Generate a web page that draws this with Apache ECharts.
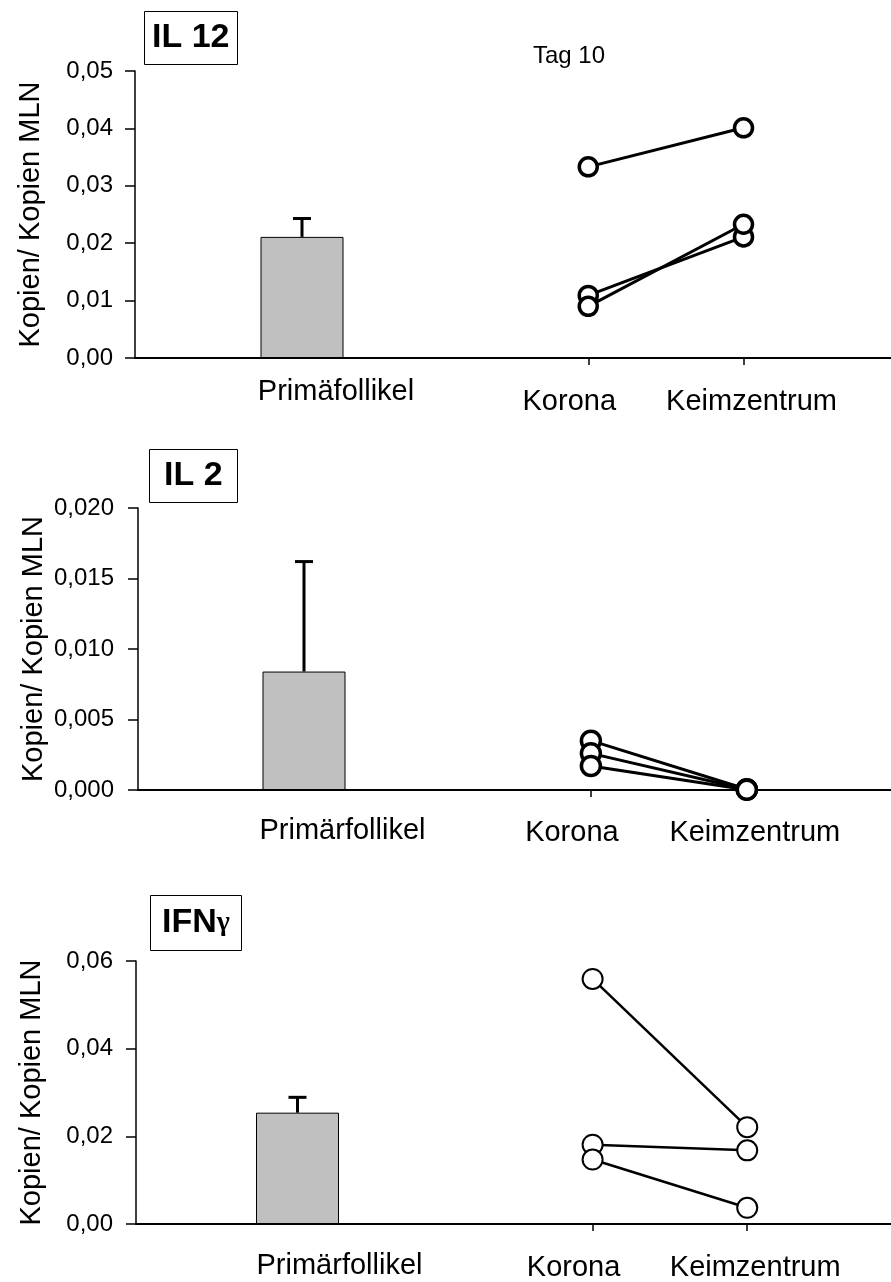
<!DOCTYPE html>
<html>
<head>
<meta charset="utf-8">
<script src="https://cdn.jsdelivr.net/npm/echarts@6/dist/echarts.min.js"></script>
<style>
  html, body { margin: 0; padding: 0; background: #fff; }
  #chart { width: 891px; height: 1282px; }
</style>
</head>
<body>
<div id="chart"></div>
<script>
// pair categories (right part of each panel)
const pairNames = ['Korona', 'Keimzentrum'];

// IL 12
const il12Category = ['Primäfollikel'];
const il12Mean = [0.0211];
const il12Err = [0.0032];
const il12Korona = [0.0333, 0.0109, 0.0090];
const il12Keim = [0.0401, 0.0211, 0.0233];
const il12Ticks = ['0,00', '0,01', '0,02', '0,03', '0,04', '0,05'];

// IL 2
const il2Category = ['Primärfollikel'];
const il2Mean = [0.0084];
const il2Err = [0.0078];
const il2Korona = [0.0035, 0.0026, 0.0017];
const il2Keim = [0.00005, 0.00003, 0.00002];
const il2Ticks = ['0,000', '0,005', '0,010', '0,015', '0,020'];

// IFN gamma
const ifnCategory = ['Primärfollikel'];
const ifnMean = [0.0254];
const ifnErr = [0.0035];
const ifnKorona = [0.0559, 0.0181, 0.0147];
const ifnKeim = [0.0221, 0.0168, 0.0037];
const ifnTicks = ['0,00', '0,02', '0,04', '0,06'];

const FONT = "'Liberation Sans', Arial, sans-serif";

const panels = [
  {
    category: il12Category, mean: il12Mean, err: il12Err, korona: il12Korona, keim: il12Keim, ticks: il12Ticks,
    max: 0.05, interval: 0.01,
    axisX: 135, top: 71, height: 287, leftWidth: 334, rightLeft: 433, xMax: 2.95,
    marker: 18, markerBorder: 3.5, lineWidth: 3,
    leftMargin: 19, leftShift: 68, rightMargin: 29, yLabelMargin: 22
  },
  {
    category: il2Category, mean: il2Mean, err: il2Err, korona: il2Korona, keim: il2Keim, ticks: il2Ticks,
    max: 0.02, interval: 0.005,
    axisX: 138, top: 508, height: 282, leftWidth: 332, rightLeft: 435, xMax: 2.925,
    marker: 19, markerBorder: 3.5, lineWidth: 3,
    leftMargin: 26, leftShift: 77, rightMargin: 28, yLabelMargin: 24
  },
  {
    category: ifnCategory, mean: ifnMean, err: ifnErr, korona: ifnKorona, keim: ifnKeim, ticks: ifnTicks,
    max: 0.06, interval: 0.02,
    axisX: 136, top: 961, height: 263, leftWidth: 323, rightLeft: 438, xMax: 2.93,
    marker: 20, markerBorder: 2, lineWidth: 2.5,
    leftMargin: 27, leftShift: 84, rightMargin: 29, yLabelMargin: 23
  }
];

const grid = [], xAxis = [], yAxis = [], series = [];

panels.forEach((p, idx) => {
  const L = idx * 2, R = idx * 2 + 1;

  grid.push({ left: p.axisX, top: p.top, width: p.leftWidth, height: p.height });
  grid.push({ left: p.rightLeft, top: p.top, right: 0, height: p.height });

  xAxis.push({
    type: 'category',
    gridIndex: L,
    data: p.category,
    axisLine: { lineStyle: { color: '#000', width: 2 } },
    axisTick: { alignWithLabel: true, length: 8, lineStyle: { color: '#000', width: 1.5 } },
    axisLabel: {
      color: '#000', fontFamily: FONT, fontSize: 29,
      margin: p.leftMargin, padding: [0, 0, 0, p.leftShift]
    }
  });
  xAxis.push({
    type: 'value',
    gridIndex: R,
    min: 0, max: p.xMax,
    splitLine: { show: false },
    axisLine: { show: true, onZero: false, lineStyle: { color: '#000', width: 2 } },
    axisTick: { show: true, customValues: [1, 2], length: 7, lineStyle: { color: '#000', width: 1.5 } },
    axisLabel: {
      customValues: [1, 2],
      margin: p.rightMargin,
      formatter: v => (v === 1 ? '{k|' + pairNames[0] + '}' : '{z|' + pairNames[1] + '}'),
      rich: {
        k: { fontFamily: FONT, fontSize: 29, color: '#000', padding: [0, 38, 0, 0] },
        z: { fontFamily: FONT, fontSize: 29, color: '#000', padding: [0, 0, 0, 16] }
      }
    }
  });

  yAxis.push({
    type: 'value',
    gridIndex: L,
    min: 0, max: p.max, interval: p.interval,
    name: 'Kopien/ Kopien MLN',
    nameLocation: 'middle',
    nameRotate: 90,
    nameGap: 90,
    nameTextStyle: { color: '#000', fontFamily: FONT, fontSize: 29 },
    splitLine: { show: false },
    axisLine: { show: true, lineStyle: { color: '#000', width: 1.5 } },
    axisTick: { show: true, length: 10, lineStyle: { color: '#000', width: 1.5 } },
    axisLabel: {
      color: '#000', fontFamily: FONT, fontSize: 24, margin: p.yLabelMargin,
      formatter: (v, i) => p.ticks[i]
    }
  });
  yAxis.push({
    type: 'value',
    gridIndex: R,
    min: 0, max: p.max,
    show: false
  });

  series.push({
    type: 'bar',
    xAxisIndex: L, yAxisIndex: L,
    data: p.mean,
    barWidth: 83,
    silent: true,
    itemStyle: { color: '#c0c0c0', borderColor: '#000', borderWidth: 1 }
  });

  series.push({
    type: 'custom',
    xAxisIndex: L, yAxisIndex: L,
    silent: true,
    data: p.mean.map((m, i) => [i, m, p.err[i]]),
    encode: { x: 0, y: 1 },
    renderItem: (params, api) => {
      const base = api.coord([api.value(0), api.value(1)]);
      const top = api.coord([api.value(0), api.value(1) + api.value(2)]);
      const style = { stroke: '#000', lineWidth: 3 };
      return {
        type: 'group',
        children: [
          { type: 'line', shape: { x1: base[0], y1: base[1], x2: top[0], y2: top[1] }, style },
          { type: 'line', shape: { x1: top[0] - 9, y1: top[1], x2: top[0] + 9, y2: top[1] }, style }
        ]
      };
    }
  });

  p.korona.forEach((k, i) => {
    series.push({
      type: 'line',
      xAxisIndex: R, yAxisIndex: R,
      data: [[1, k], [2, p.keim[i]]],
      symbol: 'circle',
      symbolSize: p.marker,
      silent: true,
      lineStyle: { color: '#000', width: p.lineWidth },
      itemStyle: { color: '#fff', borderColor: '#000', borderWidth: p.markerBorder }
    });
  });
});

const boxStyle = { borderColor: '#000', borderWidth: 1 };
const title = [
  Object.assign({
    text: 'IL 12', left: 144, top: 11, padding: [10, 8],
    textStyle: { fontFamily: FONT, fontSize: 34, fontWeight: 'bold', color: '#000', lineHeight: 34 }
  }, boxStyle),
  Object.assign({
    text: 'IL 2', left: 149, top: 449, padding: [10, 15],
    textStyle: { fontFamily: FONT, fontSize: 34, fontWeight: 'bold', color: '#000', lineHeight: 34 }
  }, boxStyle),
  Object.assign({
    text: '{b|IFN}{g|γ}', left: 150, top: 895, padding: [11, 12],
    textStyle: {
      lineHeight: 34,
      rich: {
        b: { fontFamily: FONT, fontSize: 34, fontWeight: 'bold', color: '#000', lineHeight: 34 },
        g: { fontFamily: "'Liberation Serif', serif", fontSize: 28, fontWeight: 'bold', color: '#000', lineHeight: 34 }
      }
    }
  }, boxStyle),
  {
    text: 'Tag 10', left: 533, top: 44, padding: 0,
    textStyle: { fontFamily: FONT, fontSize: 24, fontWeight: 'normal', color: '#000' }
  }
];

const chart = echarts.init(document.getElementById('chart'));
chart.setOption({
  animation: false,
  backgroundColor: '#fff',
  title,
  grid,
  xAxis,
  yAxis,
  series
});
</script>
</body>
</html>
